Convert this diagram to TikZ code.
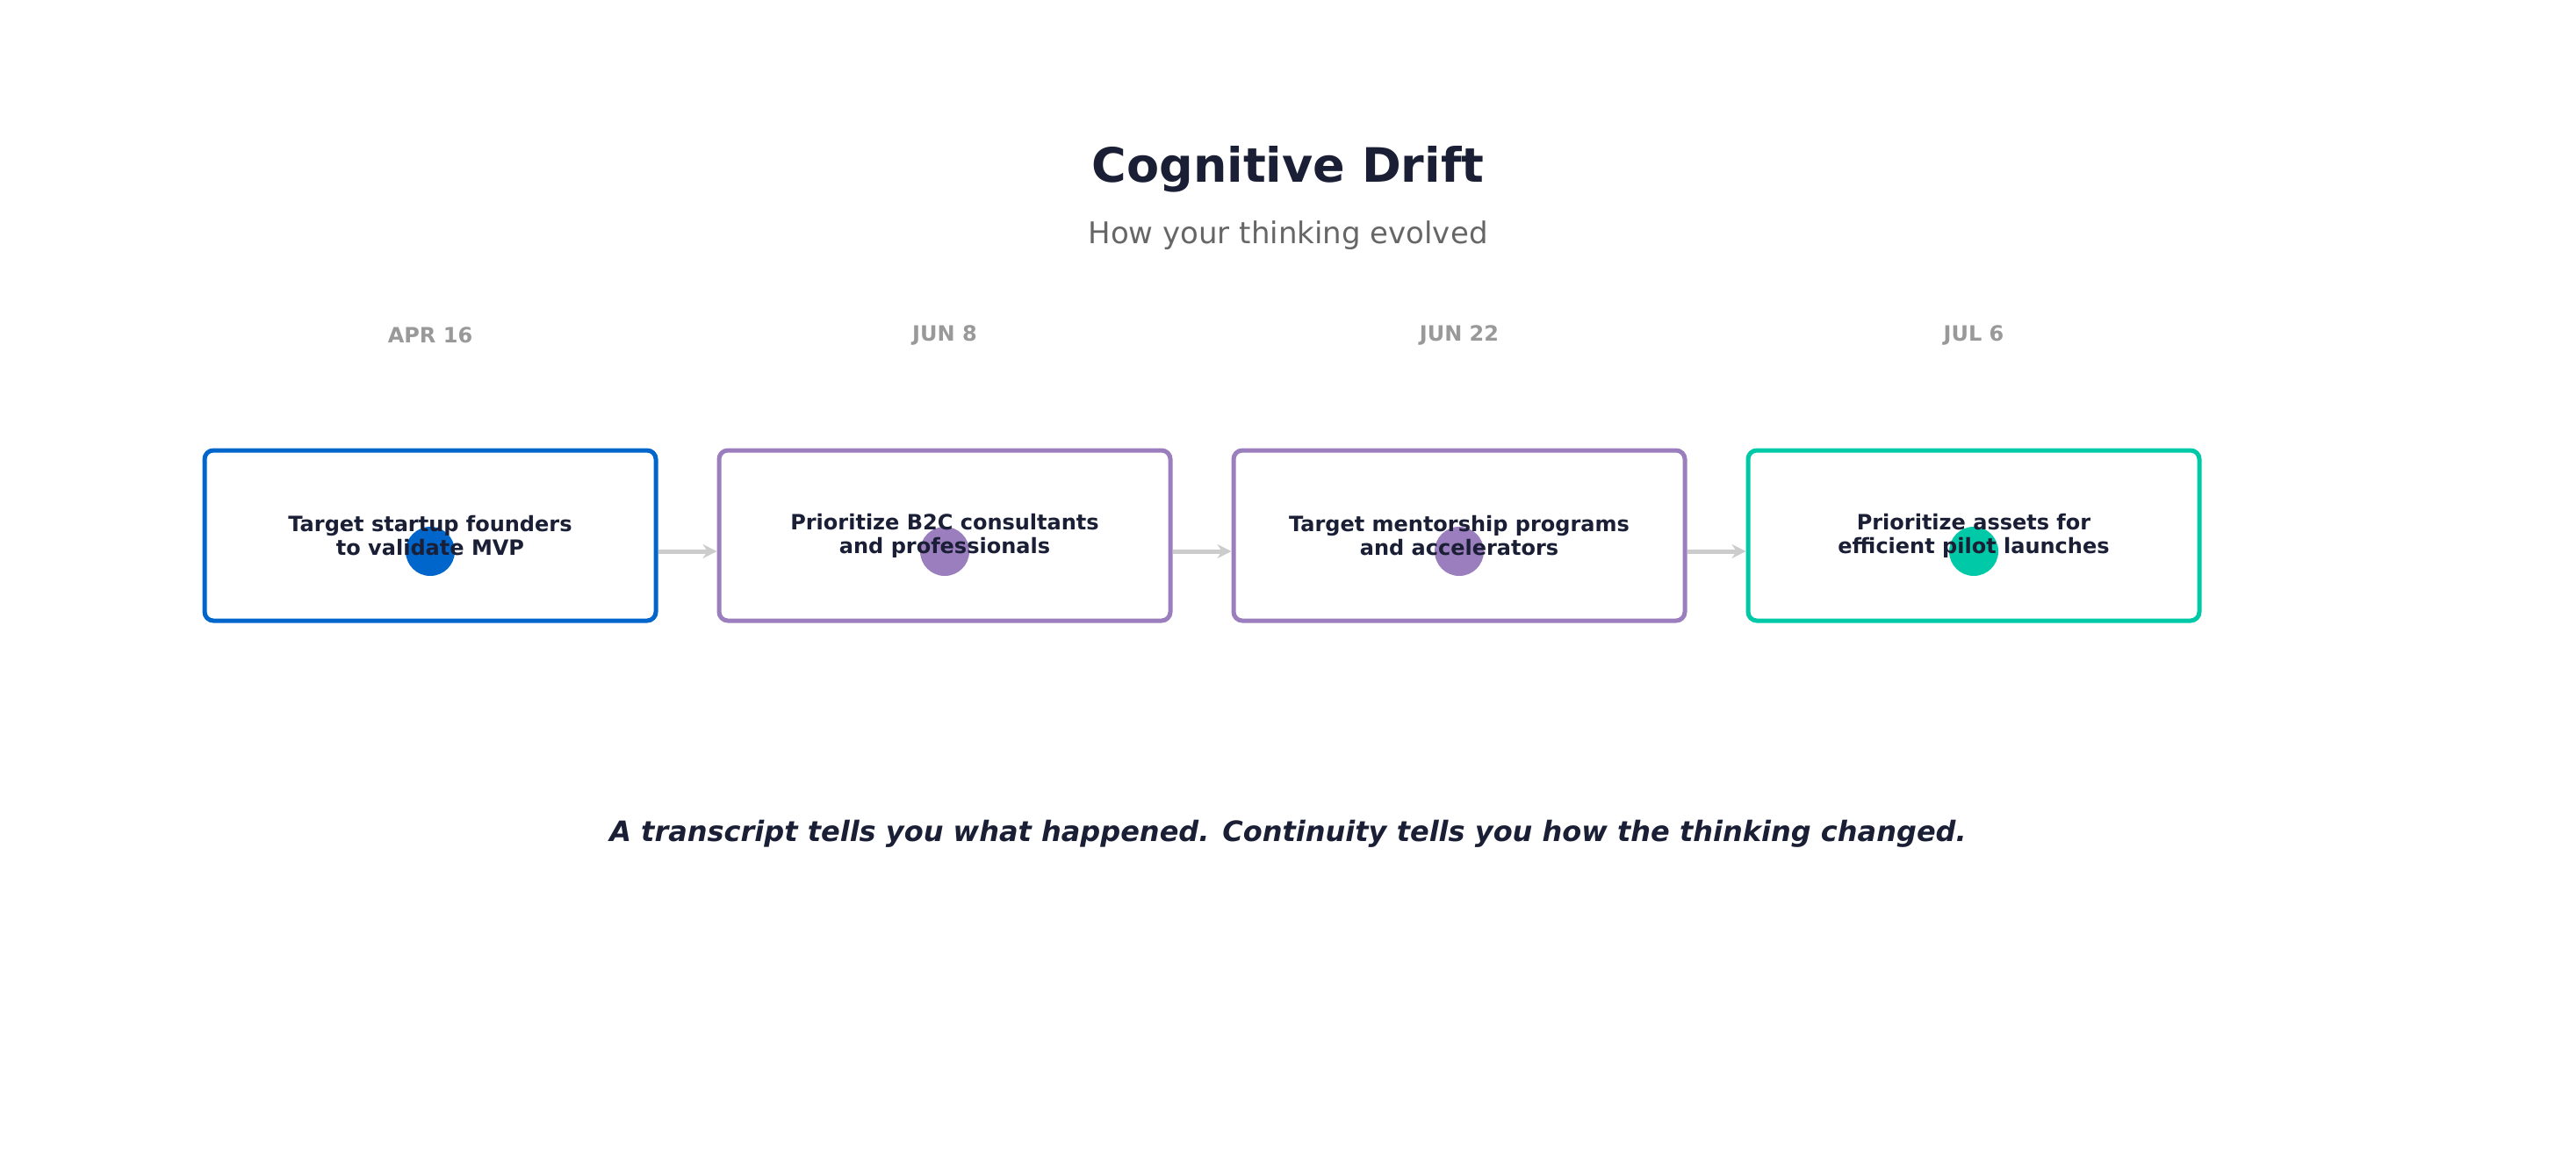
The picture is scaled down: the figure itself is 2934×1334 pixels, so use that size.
\documentclass[tikz,border=0pt]{standalone}
\usepackage{fontspec}
\setmainfont{DejaVu Sans}
\usetikzlibrary{arrows.meta}
\definecolor{cblue}{HTML}{0066CC}
\definecolor{cpurple}{HTML}{9B7EBD}
\definecolor{cteal}{HTML}{00C9A7}
\definecolor{cdark}{HTML}{1A1F36}
\definecolor{csub}{HTML}{666666}
\definecolor{cdate}{HTML}{999999}
\definecolor{carrow}{HTML}{CCCCCC}
\begin{document}
\begin{tikzpicture}[x=0.5pt,y=-0.5pt,
  box/.style={draw=#1,line width=2.5pt,rounded corners=5pt,minimum width=257pt,minimum height=97pt,fill=white},
  dot/.style={circle,fill=#1,minimum size=28pt,inner sep=0},
  txt/.style={font=\fontsize{12}{13.5}\selectfont\bfseries,text=cdark,align=center},
  date/.style={font=\fontsize{12}{14}\selectfont\bfseries,text=cdate},
  arr/.style={draw=carrow,line width=2.5pt,-{Stealth[length=8pt,width=8pt]}}]
\useasboundingbox (0,0) rectangle (2934,1334);
\node[font=\fontsize{27}{32}\selectfont\bfseries,text=cdark] (title) at (1467,193) {Cognitive Drift};
\node[font=\fontsize{17}{20}\selectfont,text=csub] (sub) at (1467,268) {How your thinking evolved};
\foreach \i/\x/\c/\d/\t in {1/490/cblue/APR 16/{Target startup founders\\to validate MVP},
  2/1076/cpurple/JUN 8/{Prioritize B2C consultants\\and professionals},
  3/1662/cpurple/JUN 22/{Target mentorship programs\\and accelerators},
  4/2248/cteal/JUL 6/{Prioritize assets for\\efficient pilot launches}}{
  \node[box=\c] (b\i) at (\x,610) {};
  \node[date] (d\i) at (\x,382) {\d};
  \node[dot=\c] (c\i) at (\x,628) {};
  \node[txt] (t\i) at (\x,610) {\t};
}
\foreach \a/\b in {1/2,2/3,3/4}{
  \draw[arr] (b\a.east |- c\a) -- (b\b.west |- c\b);
}
\node[font=\fontsize{16}{19}\selectfont\bfseries\itshape,text=cdark] (tag) at (1467,950) {A transcript tells you what happened. Continuity tells you how the thinking changed.};
\end{tikzpicture}
\end{document}
